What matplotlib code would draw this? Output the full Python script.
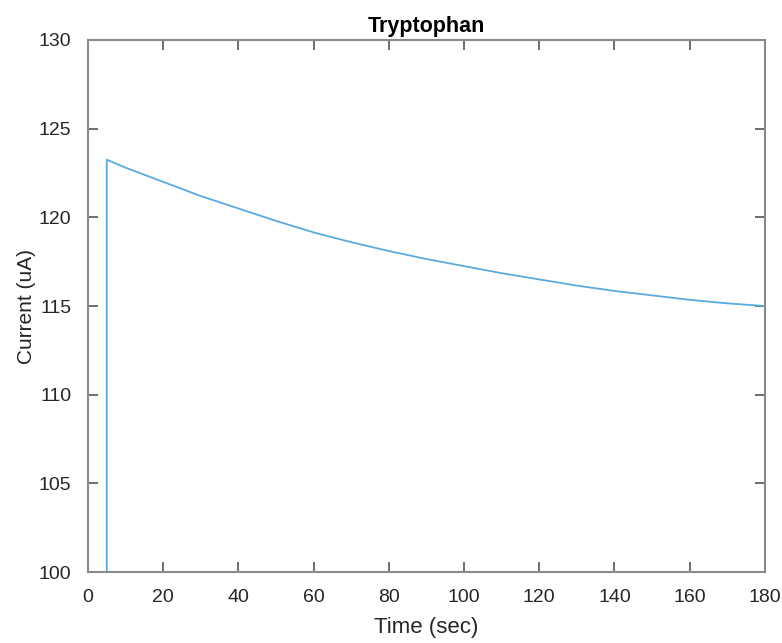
import matplotlib
matplotlib.use("Agg")
import matplotlib.pyplot as plt

# current trace read at 10 s steps after the step at t = 5 s
time_s = [5, 5, 10, 20, 30, 40, 50, 60, 70, 80, 90, 100,
          110, 120, 130, 140, 150, 160, 170, 180]
current_ua = [100.0, 123.25, 122.8, 122.0, 121.2, 120.5, 119.8, 119.15, 118.6, 118.1,
              117.65, 117.25, 116.85, 116.5, 116.15, 115.85, 115.6, 115.35, 115.15, 115.0]

x_ticks = list(range(0, 181, 20))
y_ticks = list(range(100, 131, 5))

plt.rcParams["font.family"] = ["Liberation Sans", "DejaVu Sans"]

fig = plt.figure(figsize=(7.82, 6.43), dpi=100)
ax = fig.add_axes([0.1125, 0.1104, 0.8655, 0.8274])

ax.plot(time_s, current_ua, color="#5aaae0", linewidth=1.3)

ax.set_xlim(0, 180)
ax.set_ylim(100, 130)
ax.set_xticks(x_ticks)
ax.set_yticks(y_ticks)

gray = "#8a8a8a"
for side in ax.spines.values():
    side.set_color(gray)
    side.set_linewidth(1.5)
ax.tick_params(direction="in", length=7, width=1.2, color="#555555",
               top=True, right=True, labelsize=14, labelcolor="#262626")
ax.tick_params(axis="x", pad=12)
ax.tick_params(axis="y", pad=12)

ax.set_xlabel("Time (sec)", fontsize=16, color="#262626", labelpad=8)
ax.set_ylabel("Current (uA)", fontsize=15, color="#262626", labelpad=2)
ax.set_title("Tryptophan", fontsize=15.5, fontweight="bold", color="black", pad=6)

fig.savefig("out.png", dpi=100)
